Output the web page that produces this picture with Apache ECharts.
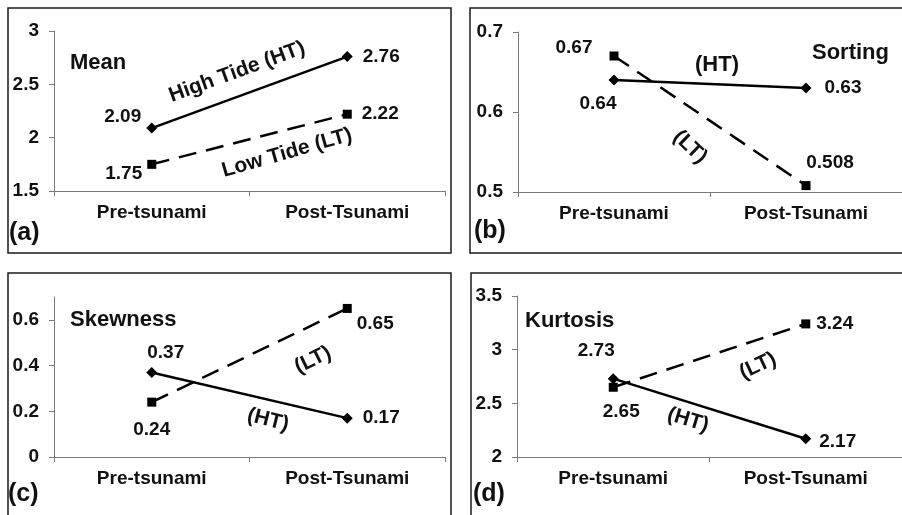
<!DOCTYPE html>
<html><head><meta charset="utf-8">
<script src="https://cdn.jsdelivr.net/npm/echarts@6/dist/echarts.min.js"></script>
<style>html,body{margin:0;padding:0;background:#fff}#c{width:902px;height:515px}</style>
</head><body><div id="c"></div>
<script>
// ---- data ----
const categories = ['Pre-tsunami', 'Post-Tsunami'];
const meanHT = [2.09, 2.76];
const meanLT = [1.75, 2.22];
const sortingHT = [0.64, 0.63];
const sortingLT = [0.67, 0.508];
const skewHT = [0.37, 0.17];
const skewLT = [0.24, 0.65];
const kurtHT = [2.73, 2.17];
const kurtLT = [2.65, 3.24];
const meanTicks = [1.5, 2, 2.5, 3];
const sortingTicks = [0.5, 0.6, 0.7];
const skewTicks = [0, 0.2, 0.4, 0.6];
const kurtTicks = [2, 2.5, 3, 3.5];

// ---- styling / layout ----
const FONT = '"Liberation Sans", Arial, Helvetica, sans-serif';
const INK = '#111';
const AXIS = '#7a7a7a';
const grids = [
  {left: 54, top: 31, width: 391, height: 160},
  {left: 518, top: 32, width: 384, height: 160},
  {left: 54, top: 297, width: 391, height: 160},
  {left: 517, top: 296, width: 385, height: 161}
];
const yRanges = [
  {ticks: meanTicks, min: 1.5, max: 3},
  {ticks: sortingTicks, min: 0.5, max: 0.7},
  {ticks: skewTicks, min: 0, max: 0.7},
  {ticks: kurtTicks, min: 2, max: 3.5}
];
function L(pos, dist, off) {
  return {show: true, position: pos, distance: dist, offset: off || [0, 0],
    color: INK, fontFamily: FONT, fontWeight: 'bold', fontSize: 19};
}
const panels = [
  {ht: meanHT, lt: meanLT,
   htL: [L('left', 5, [0, -11]), L('right', 10)],
   ltL: [L('left', 5, [0, 9]), L('right', 10)]},
  {ht: sortingHT, lt: sortingLT,
   htL: [L('bottom', 5, [-16, 4]), L('right', 13)],
   ltL: [L('left', 17, [0, -8]), L('top', 5, [24, -4])]},
  {ht: skewHT, lt: skewLT,
   htL: [L('top', 5, [14, 0]), L('right', 10)],
   ltL: [L('bottom', 5, [0, 9]), L('right', 5, [0, 15])]},
  {ht: kurtHT, lt: kurtLT,
   htL: [L('top', 5, [-17, -8]), L('right', 8, [0, 3])],
   ltL: [L('bottom', 5, [8, 6]), L('right', 6)]}
];

const xAxis = [], yAxis = [], series = [];
grids.forEach((g, i) => {
  xAxis.push({
    type: 'category', gridIndex: i, data: categories, boundaryGap: true,
    axisLine: {lineStyle: {color: AXIS, width: 1}},
    axisTick: {show: true, length: 5, lineStyle: {color: AXIS}},
    axisLabel: {color: INK, fontFamily: FONT, fontWeight: 'bold', fontSize: 19, margin: 12},
    splitLine: {show: false}
  });
  const r = yRanges[i];
  yAxis.push({
    type: 'value', gridIndex: i, min: r.min, max: r.max,
    axisLine: {show: true, lineStyle: {color: AXIS, width: 1}},
    axisTick: {show: true, length: 5, lineStyle: {color: AXIS}, customValues: r.ticks},
    axisLabel: {color: INK, fontFamily: FONT, fontWeight: 'bold', fontSize: 19, margin: 15, customValues: r.ticks},
    splitLine: {show: false}
  });
  const p = panels[i];
  series.push({
    type: 'line', xAxisIndex: i, yAxisIndex: i, name: 'HT',
    symbol: 'diamond', symbolSize: 11,
    itemStyle: {color: '#000'}, lineStyle: {color: '#000', width: 2.5},
    data: p.ht.map((v, k) => ({value: v, label: p.htL[k]})),
    animation: false, z: 3
  });
  series.push({
    type: 'line', xAxisIndex: i, yAxisIndex: i, name: 'LT',
    symbol: 'rect', symbolSize: 9,
    itemStyle: {color: '#000'}, lineStyle: {color: '#000', width: 2.5, type: [18, 10]},
    data: p.lt.map((v, k) => ({value: v, label: p.ltL[k]})),
    animation: false, z: 2
  });
});

function rect(x, y, w, h) {
  return {type: 'rect', shape: {x: x, y: y, width: w, height: h}, silent: true,
    style: {fill: 'none', stroke: '#1a1a1a', lineWidth: 1.5}, z: 0};
}
function txt(s, x, y, size, deg, align) {
  return {type: 'text', x: x, y: y, rotation: (deg || 0) * Math.PI / 180, silent: true, z: 10,
    style: {text: s, fill: INK, fontFamily: FONT, fontWeight: 'bold', fontSize: size,
      align: align || 'center', verticalAlign: 'middle'}};
}
const graphic = [
  rect(8, 8, 443, 245), rect(470, 8, 450, 245),
  rect(8, 273, 443, 260), rect(471, 273, 450, 260),
  txt('Mean', 70, 63, 22, 0, 'left'),
  txt('Sorting', 812, 53, 22, 0, 'left'),
  txt('Skewness', 70, 320, 22, 0, 'left'),
  txt('Kurtosis', 525, 321, 22, 0, 'left'),
  txt('High Tide (HT)', 237, 72, 21, 20),
  txt('Low Tide (LT)', 287, 153, 21, 16),
  txt('(HT)', 717, 65, 22, 0),
  txt('(LT)', 690, 147, 21, -44),
  txt('(LT)', 313, 360, 21, 26),
  txt('(HT)', 268, 420, 21, -14),
  txt('(LT)', 758, 366, 21, 25),
  txt('(HT)', 688, 420, 21, -17),
  txt('(a)', 9, 233, 25, 0, 'left'),
  txt('(b)', 474, 231, 25, 0, 'left'),
  txt('(c)', 8, 494, 25, 0, 'left'),
  txt('(d)', 473, 494, 25, 0, 'left')
];

const chart = echarts.init(document.getElementById('c'), null, {renderer: 'canvas'});
chart.setOption({
  backgroundColor: '#fff', animation: false,
  grid: grids.map(g => Object.assign({containLabel: false}, g)),
  xAxis: xAxis, yAxis: yAxis, series: series, graphic: graphic
});
</script></body></html>
